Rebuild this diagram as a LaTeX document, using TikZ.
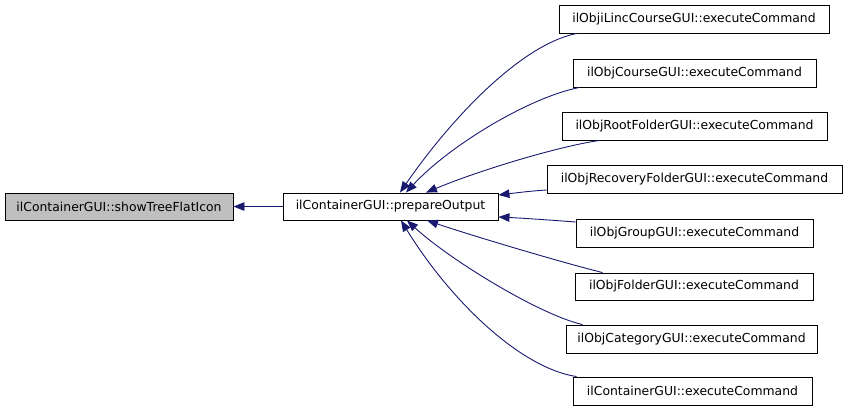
\documentclass[tikz,border=0pt]{standalone}
\usepackage{fontspec}
\setmainfont{DejaVu Sans}
\usetikzlibrary{arrows.meta,calc}
\definecolor{edgeblue}{RGB}{25,25,112}
\definecolor{leafgray}{RGB}{191,191,191}
\tikzset{
  box/.style={draw=black, line width=0.9pt, fill=white, inner sep=0pt, minimum height=28pt,
    font=\fontsize{12.4}{14}\selectfont, anchor=center},
  edge/.style={draw=edgeblue, line width=0.9pt, -{Triangle[length=11pt,width=8.5pt]}},
}
\begin{document}
\begin{tikzpicture}[x=1pt,y=-1pt]
\useasboundingbox (0,0) rectangle (848,413);
\node[box, fill=leafgray, minimum width=228pt, minimum height=27pt] (L) at (119,206.5) {ilContainerGUI::showTreeFlatIcon};
\node[box, minimum width=215pt, minimum height=27pt] (M) at (390.5,206.5) {ilContainerGUI::prepareOutput};
\node[box, minimum width=270pt] (R1) at (694,19) {ilObjiLincCourseGUI::executeCommand};
\node[box, minimum width=243pt] (R2) at (694.5,73) {ilObjCourseGUI::executeCommand};
\node[box, minimum width=265pt] (R3) at (694.5,126) {ilObjRootFolderGUI::executeCommand};
\node[box, minimum width=295pt] (R4) at (694.5,179) {ilObjRecoveryFolderGUI::executeCommand};
\node[box, minimum width=237pt] (R5) at (694.5,233) {ilObjGroupGUI::executeCommand};
\node[box, minimum width=238pt, minimum height=27pt] (R6) at (694,286.5) {ilObjFolderGUI::executeCommand};
\node[box, minimum width=251pt] (R7) at (691.5,339) {ilObjCategoryGUI::executeCommand};
\node[box, minimum width=239pt] (R8) at (692.5,391) {ilContainerGUI::executeCommand};

\draw[edge] (M.west) -- (L.east);

\draw[edge] ($(R1.south west)+(18,0)$) .. controls (520,45) and (450,120) .. ($(M.north)+(9.5,0)$);
\draw[edge] ($(R2.south west)+(7,0)$) .. controls (530,97) and (450,145) .. ($(M.north)+(15.5,0)$);
\draw[edge] ($(R3.south west)+(38,0)$) .. controls (560,146) and (480,170) .. ($(M.north)+(35.5,0)$);
\draw[edge] ($(R4.west)+(0,11)$) .. controls (530,191) and (515,193) .. ($(M.east)+(0,-11.5)$);
\draw[edge] ($(R5.west)+(0,-11)$) .. controls (550,220) and (520,218) .. ($(M.east)+(0,10.5)$);
\draw[edge] ($(R6.north west)+(28,0)$) .. controls (560,262) and (470,235) .. ($(M.south)+(36.5,0)$);
\draw[edge] ($(R7.north west)+(17,0)$) .. controls (540,315) and (450,260) .. ($(M.south)+(16.5,0)$);
\draw[edge] ($(R8.north west)+(4,0)$) .. controls (520,368) and (450,300) .. ($(M.south)+(10.5,0)$);
\end{tikzpicture}
\end{document}
